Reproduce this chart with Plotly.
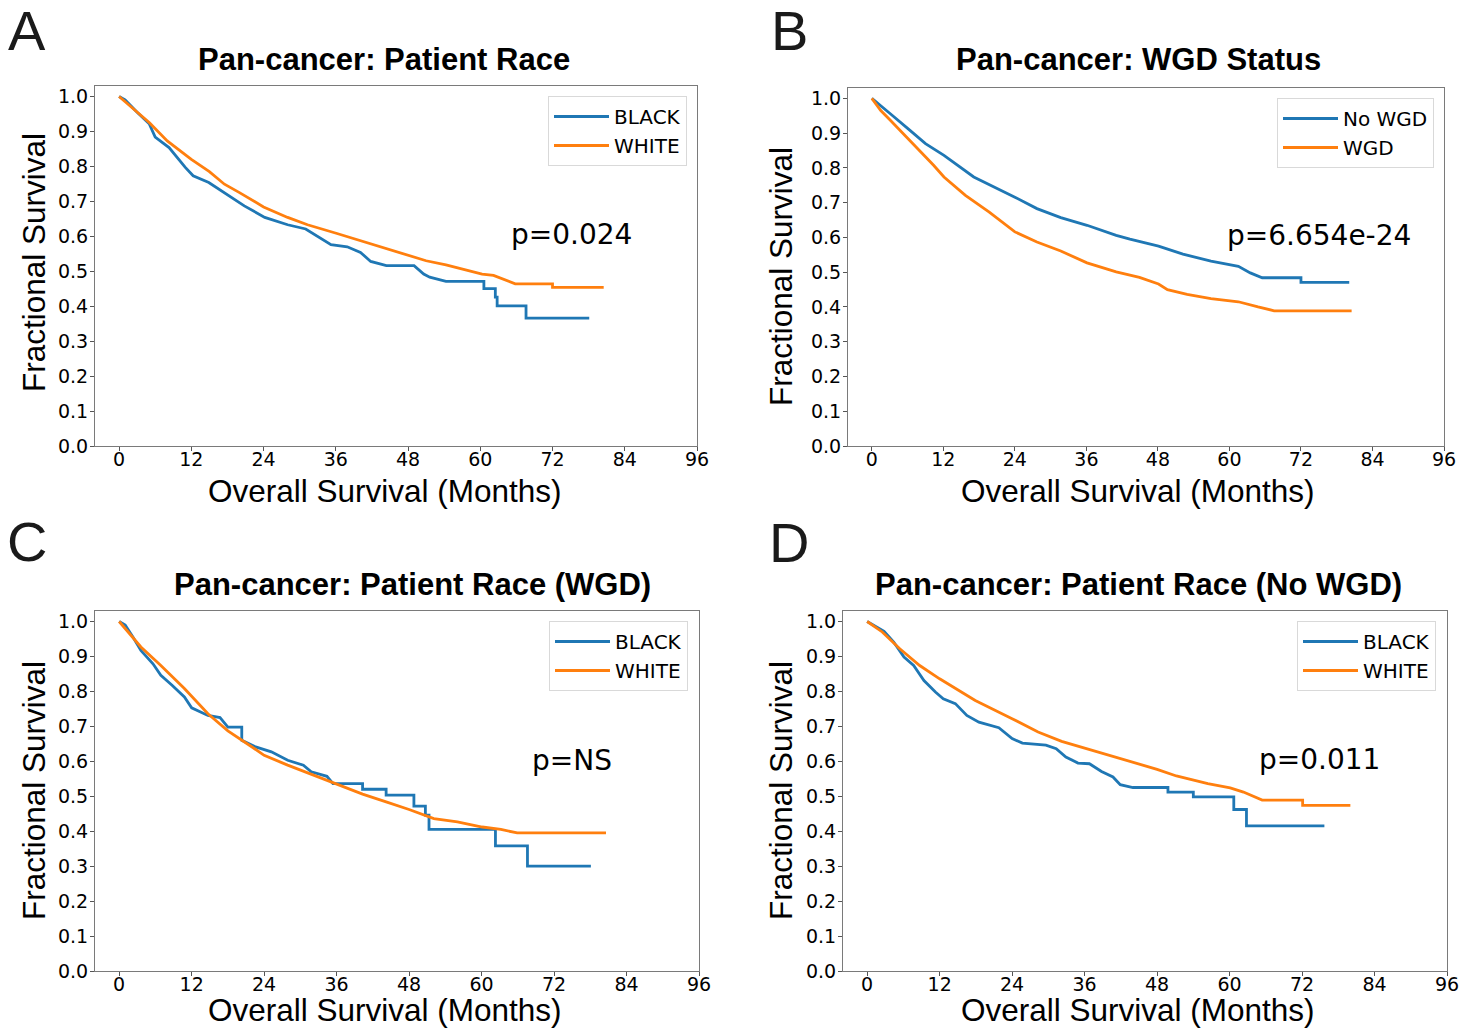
import plotly.graph_objects as go

# ---------------- data ----------------
# Panel A: Pan-cancer, Patient Race
a_black_t = [0, 1, 3, 5, 6, 8.3, 11, 12.3, 14.9, 17.5, 20.8, 24.2, 28, 31, 33.3, 35.2, 37.9, 40.1, 41.8, 44.4,
             49, 50.6, 51.6, 54.3, 60.6, 60.6, 62.5, 62.5, 62.8, 62.8, 67.6, 67.6, 78.1]
a_black_s = [1.0, 0.99, 0.955, 0.922, 0.884, 0.854, 0.797, 0.773, 0.754, 0.725, 0.687, 0.654, 0.633, 0.621, 0.597,
             0.576, 0.570, 0.554, 0.528, 0.516, 0.516, 0.492, 0.483, 0.471, 0.471, 0.450, 0.450, 0.426, 0.426, 0.401,
             0.401, 0.366, 0.366]
a_white_t = [0, 2, 5.05, 8, 12, 15, 17.5, 20, 24, 28, 31.3, 36.2, 41.8, 44, 48.2, 51, 54.3, 58, 60.3, 62.2, 65.8,
             72, 72, 80.5]
a_white_s = [1.0, 0.970, 0.925, 0.873, 0.820, 0.785, 0.749, 0.725, 0.684, 0.654, 0.633, 0.608, 0.578, 0.568, 0.545,
             0.530, 0.518, 0.502, 0.492, 0.488, 0.464, 0.464, 0.454, 0.454]

# Panel B: Pan-cancer, WGD status
b_nowgd_t = [0, 1.5, 3.1, 6.4, 9, 12.1, 17.1, 24, 27.7, 31.7, 36.1, 41, 43.3, 48.1, 52.2, 56.9, 61.5, 63.5, 65.5,
             72, 72, 80.1]
b_nowgd_s = [1.0, 0.98, 0.956, 0.908, 0.870, 0.836, 0.774, 0.716, 0.683, 0.657, 0.635, 0.606, 0.595, 0.575, 0.552,
             0.532, 0.517, 0.498, 0.484, 0.484, 0.471, 0.471]
b_wgd_t = [0, 1.5, 3.1, 6.4, 10.4, 12.1, 15.7, 19.7, 24, 27.7, 31.7, 36.1, 41, 44.9, 48.1, 49.6, 52.9, 56.9, 61.5,
           64.8, 67.5, 80.5]
b_wgd_s = [1.0, 0.965, 0.937, 0.879, 0.807, 0.774, 0.721, 0.673, 0.616, 0.587, 0.561, 0.527, 0.501, 0.485, 0.466,
           0.450, 0.436, 0.424, 0.415, 0.400, 0.389, 0.389]

# Panel C: Patient Race (WGD)
c_black_t = [0, 1, 2.3, 3.6, 5.6, 6.9, 8.8, 10.8, 12, 14.7, 16.7, 18, 20.3, 20.3, 22.6, 25.2, 27.9, 30.5, 31.8, 34.4,
             35.4, 40.3, 40.3, 44.2, 44.2, 48.8, 48.8, 50.7, 50.7, 51.3, 51.3, 62.3, 62.3, 67.6, 67.6, 78.1]
c_black_s = [1.0, 0.99, 0.955, 0.917, 0.879, 0.846, 0.817, 0.784, 0.753, 0.731, 0.725, 0.698, 0.698, 0.660, 0.641,
             0.627, 0.603, 0.589, 0.570, 0.557, 0.536, 0.536, 0.520, 0.520, 0.503, 0.503, 0.472, 0.472, 0.446, 0.446,
             0.405, 0.405, 0.358, 0.358, 0.300, 0.300]
c_white_t = [0, 3.6, 6.9, 10.8, 14.7, 18, 22, 24, 27.9, 31.8, 36, 40.3, 44.2, 48, 52.1, 56, 60.1, 63.2, 65.9, 80.6]
c_white_s = [1.0, 0.927, 0.874, 0.808, 0.736, 0.687, 0.641, 0.617, 0.589, 0.563, 0.533, 0.506, 0.484, 0.462, 0.436,
             0.427, 0.412, 0.405, 0.395, 0.395]

# Panel D: Patient Race (No WGD)
d_black_t = [0, 2.8, 4.4, 6.1, 7.7, 9.4, 11.3, 12.6, 14.6, 16.5, 18.5, 21.8, 24, 25.7, 29.6, 31.3, 32.9, 34.9, 36.8,
             38.8, 40.7, 41.9, 44, 49.8, 49.8, 54, 54, 60.7, 60.7, 62.8, 62.8, 75.7]
d_black_s = [1.0, 0.972, 0.941, 0.898, 0.874, 0.831, 0.798, 0.779, 0.765, 0.731, 0.712, 0.696, 0.665, 0.652, 0.646,
             0.636, 0.612, 0.595, 0.593, 0.571, 0.555, 0.533, 0.525, 0.525, 0.512, 0.512, 0.498, 0.498, 0.462, 0.462,
             0.415, 0.415]
d_white_t = [0, 2.5, 5.4, 8.7, 12, 17.9, 24, 28.3, 32.2, 36, 41.4, 44, 48, 51.2, 56.4, 60.1, 62.3, 65.4, 72.1, 72.1, 80]
d_white_s = [1.0, 0.970, 0.922, 0.874, 0.836, 0.774, 0.722, 0.684, 0.657, 0.638, 0.612, 0.598, 0.577, 0.558, 0.536,
             0.524, 0.512, 0.489, 0.489, 0.474, 0.474]

panel_titles = ["Pan-cancer: Patient Race", "Pan-cancer: WGD Status",
                "Pan-cancer: Patient Race (WGD)", "Pan-cancer: Patient Race (No WGD)"]
panel_letters = ["A", "B", "C", "D"]
p_values = ["p=0.024", "p=6.654e-24", "p=NS", "p=0.011"]
series_names = [["BLACK", "WHITE"], ["No WGD", "WGD"], ["BLACK", "WHITE"], ["BLACK", "WHITE"]]
x_ticks = [0, 12, 24, 36, 48, 60, 72, 84, 96]
y_ticks = [0.0, 0.1, 0.2, 0.3, 0.4, 0.5, 0.6, 0.7, 0.8, 0.9, 1.0]

curves = [
    [(a_black_t, a_black_s), (a_white_t, a_white_s)],
    [(b_nowgd_t, b_nowgd_s), (b_wgd_t, b_wgd_s)],
    [(c_black_t, c_black_s), (c_white_t, c_white_s)],
    [(d_black_t, d_black_s), (d_white_t, d_white_s)],
]

# ---------------- layout geometry (pixels) ----------------
W, H = 1478, 1032
BLUE, ORANGE = "#1f77b4", "#ff7f0e"
TICK_FONT = "DejaVu Sans, Verdana, sans-serif"
LABEL_FONT = "Liberation Sans, Arial, Helvetica, sans-serif"

# plot-area boxes: (left, right, top, bottom)
boxes = [(95, 697, 86, 446), (848, 1444, 88, 446), (95, 699, 611, 971), (843, 1447, 611, 971)]
title_pos = [(384, 60), (1138, 60), (413, 584), (1138, 584)]
letter_pos = [(27, 30), (789, 30), (27, 541), (789, 542)]
xlabel_pos = [(385, 491), (1138, 491), (385, 1010), (1138, 1010)]
ylabel_pos = [(34, 263), (781, 277), (34, 791), (781, 791)]
pval_pos = [(571, 235), (1319, 236), (572, 760), (1319, 759)]
legend_pos = [(687, 96), (1434, 98), (688, 621), (1436, 621)]


def px(x):
    return x / W


def py(y):
    return 1 - y / H


fig = go.Figure()
annotations = []
layout = dict(
    width=W, height=H,
    margin=dict(l=0, r=0, t=0, b=0),
    paper_bgcolor="white", plot_bgcolor="white",
    showlegend=True,
)

for i in range(4):
    n = "" if i == 0 else str(i + 1)
    xa, ya = "x" + n, "y" + n
    leg = "legend" + n
    for (t, s), name, col in zip(curves[i], series_names[i], [BLUE, ORANGE]):
        fig.add_trace(go.Scatter(x=t, y=s, mode="lines", name=name, xaxis=xa, yaxis=ya, legend=leg,
                                 line=dict(color=col, width=2.8)))
    l, r, tp, bt = boxes[i]
    axis_common = dict(showline=True, mirror=True, linecolor="#7a7a7a", linewidth=1,
                       showgrid=False, zeroline=False, ticks="outside", ticklen=4, tickwidth=1,
                       tickcolor="#555", tickfont=dict(family=TICK_FONT, size=19, color="black"),
                       automargin=False, fixedrange=True)
    layout["xaxis" + n] = dict(axis_common, domain=[px(l), px(r)], range=[-4, 96], tickvals=x_ticks,
                               ticktext=[str(v) for v in x_ticks], anchor=ya, ticklabelstandoff=-8)
    layout["yaxis" + n] = dict(axis_common, domain=[py(bt), py(tp)], range=[0, 1.03], tickvals=y_ticks,
                               ticktext=["%.1f" % v for v in y_ticks], anchor=xa, ticklabelstandoff=-2)
    lx, ly = legend_pos[i]
    layout[leg] = dict(x=px(lx), y=py(ly), xanchor="right", yanchor="top", bgcolor="white",
                       bordercolor="#d9d9d9", borderwidth=1,
                       font=dict(family=TICK_FONT, size=20, color="black"),
                       tracegroupgap=0, itemwidth=55)

    tx, ty = title_pos[i]
    annotations.append(dict(text="<b>%s</b>" % panel_titles[i], x=px(tx), y=py(ty), xref="paper", yref="paper",
                            xanchor="center", yanchor="middle", showarrow=False,
                            font=dict(family=LABEL_FONT, size=31, color="black")))
    lx2, ly2 = letter_pos[i]
    annotations.append(dict(text=panel_letters[i], x=px(lx2), y=py(ly2), xref="paper", yref="paper",
                            xanchor="center", yanchor="middle", showarrow=False,
                            font=dict(family=LABEL_FONT, size=56, color="#1a1a1a")))
    xx, xy = xlabel_pos[i]
    annotations.append(dict(text="Overall Survival (Months)", x=px(xx), y=py(xy), xref="paper", yref="paper",
                            xanchor="center", yanchor="middle", showarrow=False,
                            font=dict(family=LABEL_FONT, size=31.5, color="black")))
    yx, yy = ylabel_pos[i]
    annotations.append(dict(text="Fractional Survival", x=px(yx), y=py(yy), xref="paper", yref="paper",
                            xanchor="center", yanchor="middle", showarrow=False, textangle=-90,
                            font=dict(family=LABEL_FONT, size=31.5, color="black")))
    vx, vy = pval_pos[i]
    annotations.append(dict(text=p_values[i], x=px(vx), y=py(vy), xref="paper", yref="paper",
                            xanchor="center", yanchor="middle", showarrow=False,
                            font=dict(family=TICK_FONT, size=28, color="black")))

layout["annotations"] = annotations
fig.update_layout(**layout)
fig.write_html("out.html", config={"displayModeBar": False},
               post_script="document.body.style.margin='0';document.body.style.overflow='hidden';")
